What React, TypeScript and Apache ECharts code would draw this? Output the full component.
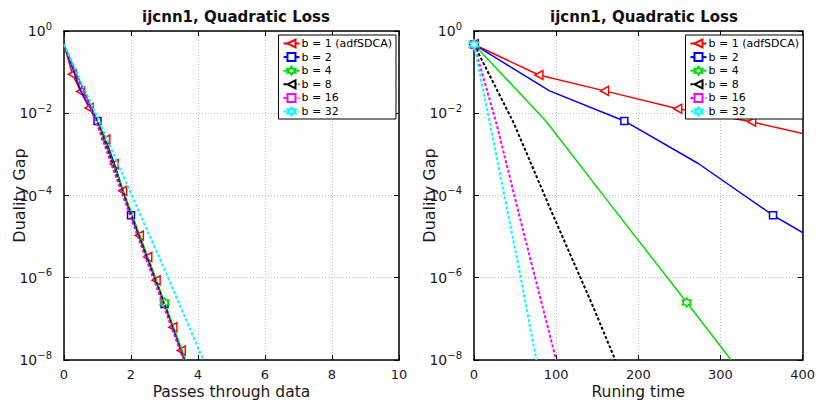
import React, { useEffect, useRef } from 'react';
import * as echarts from 'echarts';

const legendNames = ['b = 1 (adfSDCA)', 'b = 2', 'b = 4', 'b = 8', 'b = 16', 'b = 32'];
const lineColors = ['#ff0000', '#0000ff', '#00e000', '#000000', '#ff00ff', '#00ffff'];

// Left panel: passes through data
const passesB1 = [0, 0.25, 0.5, 0.75, 1, 1.25, 1.5, 1.75, 2, 2.25, 2.5, 2.75, 3, 3.25, 3.5, 3.6];
const gapB1Passes = [0.47, 8.9e-2, 3.4e-2, 1.35e-2, 6.3e-3, 2.3e-3, 5.8e-4, 1.3e-4, 3.5e-5, 1.07e-5, 3.2e-6, 8.7e-7, 2.4e-7, 6.3e-8, 1.7e-8, 1e-8];
const markB1Passes = [1, 2, 3, 5, 6, 7, 9, 10, 11, 13, 14];

const passesB2 = [0, 0.5, 1, 1.5, 2, 2.5, 3, 3.6];
const gapB2Passes = [0.47, 3.5e-2, 6.5e-3, 6.0e-4, 3.3e-5, 2.8e-6, 2.3e-7, 1e-8];
const markB2Passes = [2, 4, 6];

const passesB4 = [0, 1, 2, 3, 3.63];
const gapB4 = [0.47, 6.3e-3, 4.0e-5, 2.5e-7, 1e-8];
const markB4Passes = [3];

const passesB8 = [0, 1, 2, 3, 3.58];
const gapB8 = [0.47, 6.0e-3, 3.4e-5, 2.2e-7, 1e-8];
const markB8Passes: number[] = [];

const passesB16 = [0, 1, 2, 3, 3.57];
const gapB16 = [0.47, 5.0e-3, 2.8e-5, 1.8e-7, 1e-8];
const markB16Passes: number[] = [];

const passesB32 = [0, 1, 2, 3, 4, 4.16];
const gapB32 = [0.47, 7.9e-3, 1.1e-4, 1.6e-6, 2.0e-8, 1e-8];
const markB32Passes: number[] = [];

// Right panel: running time
const timeB1 = [0, 79, 159, 248, 338, 400];
const gapB1Time = [0.47, 8.5e-2, 3.5e-2, 1.29e-2, 6.2e-3, 3.2e-3];
const markB1Time = [0, 1, 2, 3, 4];

const timeB2 = [0, 92, 183, 273, 364, 400];
const gapB2Time = [0.47, 3.5e-2, 6.5e-3, 6.0e-4, 3.3e-5, 1.26e-5];
const markB2Time = [0, 2, 4];

const timeB4 = [0, 88, 173, 259, 313];
const markB4Time = [0, 3];
const timeB8 = [0, 48, 96, 144, 172];
const markB8Time = [0];
const timeB16 = [0, 28, 56, 84, 100];
const markB16Time = [0];
const timeB32 = [0, 18, 36.5, 55, 73, 76];
const markB32Time = [0];

const xTicksLeft = { min: 0, max: 10, interval: 2 };
const xTicksRight = { min: 0, max: 400, interval: 100 };

const FONT = 'DejaVu Sans';
const TEXT = '#1a1a1a';
const TRI = 'path://M0,5L10,0L10,10Z';
const HEX = 'path://M5,0L6.443,2.5L9.33,2.5L7.887,5L9.33,7.5L6.443,7.5L5,10L3.557,7.5L0.67,7.5L2.113,5L0.67,2.5L3.557,2.5Z';
const symbols = [TRI, 'rect', HEX, TRI, 'rect', HEX];
const symbolSizes = [[8, 9], 7, 9, [8, 9], 7, 9];
const dashes: any[] = ['solid', 'solid', 'solid', [3, 2], [3, 2], [3, 2]];

function build(xs: number[], ys: number[], marks: number[]) {
  return xs.map((x, i) => {
    const item: any = { value: [x, ys[i]] };
    if (marks.indexOf(i) < 0) item.symbol = 'none';
    return item;
  });
}

function series(k: number, idx: number, xs: number[], ys: number[], marks: number[]) {
  return {
    type: 'line',
    name: legendNames[k],
    xAxisIndex: idx * 2,
    yAxisIndex: idx * 2,
    data: build(xs, ys, marks),
    symbol: symbols[k],
    symbolSize: symbolSizes[k],
    showSymbol: true,
    clip: true,
    lineStyle: { color: lineColors[k], width: k >= 3 ? 2 : 1.5, type: dashes[k] },
    itemStyle: { color: '#fff', borderColor: lineColors[k], borderWidth: 1.5 },
    emphasis: { disabled: true },
    z: 2 + k,
  };
}

function xAxes(gi: number, ticks: any, name: string) {
  const line = { show: true, onZero: false, lineStyle: { color: '#000', width: 1.5 } };
  return [
    {
      type: 'value', gridIndex: gi, position: 'bottom', ...ticks,
      axisLine: line,
      axisTick: { show: true, inside: true, length: 5, lineStyle: { color: '#000', width: 1 } },
      axisLabel: { fontSize: 13, color: TEXT, fontFamily: FONT, margin: 8 },
      splitLine: { show: true, lineStyle: { color: '#c0c0c0', type: [1, 2], width: 1 } },
      name, nameLocation: 'middle', nameGap: 24, nameMoveOverlap: false,
      nameTextStyle: { fontSize: 15.5, color: TEXT, fontFamily: FONT },
    },
    {
      type: 'value', gridIndex: gi, position: 'top', ...ticks,
      axisLine: line,
      axisTick: { show: true, inside: true, length: 5, lineStyle: { color: '#000', width: 1 } },
      axisLabel: { show: false },
      splitLine: { show: false },
    },
  ];
}

function yAxes(gi: number) {
  const line = { show: true, onZero: false, lineStyle: { color: '#000', width: 1.5 } };
  const common = { type: 'log', logBase: 10, min: 1e-8, max: 1, interval: 2, gridIndex: gi };
  return [
    {
      ...common, position: 'left',
      axisLine: line,
      axisTick: { show: true, inside: true, length: 5, lineStyle: { color: '#000', width: 1 } },
      axisLabel: {
        margin: 12,
        formatter: (v: number) => {
          const e = Math.round(Math.log10(v));
          return '{b|10}{s|' + (e < 0 ? '\u2212' + -e : String(e)) + '}';
        },
        rich: {
          b: { fontSize: 14, color: TEXT, fontFamily: FONT, lineHeight: 20 },
          s: { fontSize: 10, color: TEXT, fontFamily: FONT, verticalAlign: 'top', lineHeight: 10 },
        },
      },
      splitLine: { show: true, lineStyle: { color: '#c0c0c0', type: [1, 2], width: 1 } },
      name: 'Duality Gap', nameLocation: 'middle', nameGap: 37, nameMoveOverlap: false,
      nameTextStyle: { fontSize: 16, color: TEXT, fontFamily: FONT },
    },
    {
      ...common, position: 'right',
      axisLine: line,
      axisTick: { show: true, inside: true, length: 5, lineStyle: { color: '#000', width: 1 } },
      axisLabel: { show: false },
      splitLine: { show: false },
    },
  ];
}

function legend(right: number) {
  return {
    orient: 'vertical', right, top: 35,
    backgroundColor: '#fff', borderColor: '#000', borderWidth: 1,
    padding: [3, 4, 2, 4], itemGap: 2.6, itemWidth: 16, itemHeight: 10,
    textStyle: { fontSize: 11, lineHeight: 11, color: '#000', fontFamily: FONT, padding: [0, 0, 0, -3] },
    data: legendNames,
    selectedMode: false,
  };
}

export default function App() {
  const ref = useRef<HTMLDivElement>(null);
  useEffect(() => {
    if (!ref.current) return;
    const chart = echarts.init(ref.current, null, { renderer: 'svg' });
    const titleStyle = { fontSize: 15, fontWeight: 'bold', color: '#111', fontFamily: FONT };
    const option: any = {
      animation: false,
      backgroundColor: '#fff',
      title: [
        { text: 'ijcnn1, Quadratic Loss', left: 231, top: 4, textAlign: 'center', textStyle: titleStyle },
        { text: 'ijcnn1, Quadratic Loss', left: 639, top: 4, textAlign: 'center', textStyle: titleStyle },
      ],
      grid: [
        { left: 64, right: 419, top: 31, bottom: 48, containLabel: false },
        { left: 474, right: 14, top: 31, bottom: 48, containLabel: false },
      ],
      xAxis: [...xAxes(0, xTicksLeft, 'Passes through data'), ...xAxes(1, xTicksRight, 'Runing time')],
      yAxis: [...yAxes(0), ...yAxes(1)],
      legend: [legend(422), legend(15)],
      series: [
        series(0, 0, passesB1, gapB1Passes, markB1Passes),
        series(1, 0, passesB2, gapB2Passes, markB2Passes),
        series(2, 0, passesB4, gapB4, markB4Passes),
        series(3, 0, passesB8, gapB8, markB8Passes),
        series(4, 0, passesB16, gapB16, markB16Passes),
        series(5, 0, passesB32, gapB32, markB32Passes),
        series(0, 1, timeB1, gapB1Time, markB1Time),
        series(1, 1, timeB2, gapB2Time, markB2Time),
        series(2, 1, timeB4, gapB4, markB4Time),
        series(3, 1, timeB8, gapB8, markB8Time),
        series(4, 1, timeB16, gapB16, markB16Time),
        series(5, 1, timeB32, gapB32, markB32Time),
      ],
    };
    chart.setOption(option);
    return () => chart.dispose();
  }, []);
  return <div ref={ref} style={{ position: 'absolute', left: 0, top: 0, width: 818, height: 408 }} />;
}
